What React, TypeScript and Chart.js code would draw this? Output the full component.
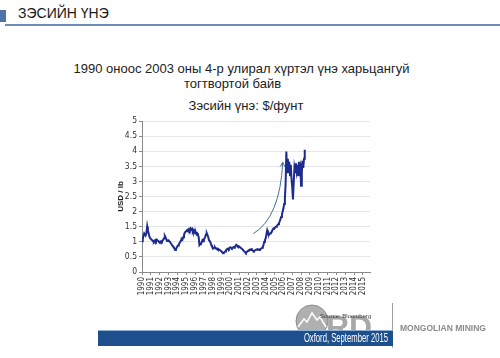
import React, { useEffect, useRef } from "react";
import { Chart, registerables } from "chart.js";

Chart.register(...registerables);

const START_YEAR = 1990;

const yearTicks = [
  1990, 1991, 1992, 1993, 1994, 1995, 1996, 1997, 1998, 1999, 2000, 2001, 2002,
  2003, 2004, 2005, 2006, 2007, 2008, 2009, 2010, 2011, 2012, 2013, 2014, 2015,
];

// Monthly copper price, USD / lb
const p1990 = [1.02, 1.08, 1.2, 1.28, 1.24, 1.22, 1.3, 1.51, 1.36, 1.28, 1.18, 1.12];
const p1991 = [1.1, 1.07, 1.05, 1.02, 1.0, 1.04, 1.06, 1.02, 1.07, 1.05, 1.03, 1.0];
const p1992 = [1.0, 0.98, 1.02, 1.0, 1.04, 1.08, 1.12, 1.2, 1.15, 1.08, 1.03, 1.05];
const p1993 = [1.05, 1.02, 1.0, 0.95, 0.92, 0.88, 0.85, 0.83, 0.78, 0.73, 0.75, 0.8];
const p1994 = [0.85, 0.88, 0.92, 0.96, 1.0, 1.05, 1.1, 1.08, 1.15, 1.22, 1.3, 1.33];
const p1995 = [1.35, 1.38, 1.4, 1.36, 1.42, 1.38, 1.44, 1.4, 1.43, 1.35, 1.4, 1.38];
const p1996 = [1.28, 1.32, 1.25, 1.28, 1.22, 1.15, 0.89, 0.92, 0.95, 0.98, 1.05, 1.02];
const p1997 = [1.08, 1.12, 1.18, 1.25, 1.28, 1.22, 1.15, 1.05, 1.02, 0.98, 0.9, 0.85];
const p1998 = [0.8, 0.78, 0.8, 0.82, 0.78, 0.76, 0.78, 0.75, 0.76, 0.74, 0.72, 0.7];
const p1999 = [0.68, 0.65, 0.62, 0.64, 0.66, 0.68, 0.72, 0.75, 0.76, 0.78, 0.76, 0.8];
const p2000 = [0.82, 0.8, 0.78, 0.8, 0.82, 0.8, 0.84, 0.86, 0.9, 0.88, 0.85, 0.86];
const p2001 = [0.84, 0.82, 0.8, 0.78, 0.76, 0.74, 0.7, 0.68, 0.66, 0.63, 0.65, 0.68];
const p2002 = [0.7, 0.72, 0.74, 0.73, 0.75, 0.76, 0.72, 0.7, 0.69, 0.71, 0.72, 0.74];
const p2003 = [0.75, 0.76, 0.74, 0.73, 0.75, 0.76, 0.78, 0.8, 0.82, 0.9, 1.0, 1.05];
const p2004 = [1.12, 1.25, 1.38, 1.3, 1.22, 1.25, 1.28, 1.3, 1.32, 1.38, 1.42, 1.45];
const p2005 = [1.45, 1.48, 1.5, 1.52, 1.55, 1.58, 1.62, 1.68, 1.75, 1.82, 1.9, 2.0];
const p2006 = [2.1, 2.25, 2.43, 2.9, 3.99, 3.3, 3.75, 3.4, 3.65, 3.2, 3.55, 3.1];
const p2007 = [2.8, 2.4, 2.95, 3.45, 3.3, 3.6, 3.35, 3.55, 3.2, 3.65, 3.4, 3.5];
const p2008 = [2.86, 3.3, 3.68, 3.45, 3.75, 4.05];

// Annotation arrow, in data units (year, USD/lb)
const arrowFrom = { x: 2002.6, y: 1.27 };
const arrowCtrl = { x: 2005.6, y: 1.8 };
const arrowTo = { x: 2005.93, y: 3.63 };

const FONT = "'Liberation Sans', Arial, sans-serif";
const NARROW = "'DejaVu Sans Condensed', 'Liberation Sans Narrow', 'Liberation Sans', sans-serif";

export default function App() {
  const ref = useRef<HTMLCanvasElement>(null);

  useEffect(() => {
    const prices = [
      ...p1990, ...p1991, ...p1992, ...p1993, ...p1994, ...p1995, ...p1996,
      ...p1997, ...p1998, ...p1999, ...p2000, ...p2001, ...p2002, ...p2003,
      ...p2004, ...p2005, ...p2006, ...p2007, ...p2008,
    ];
    const points = prices.map((v, i) => ({ x: START_YEAR + i / 12, y: v }));

    const arrowPlugin = {
      id: "arrowAnno",
      afterDatasetsDraw(chart: any) {
        const xs = chart.scales.x;
        const ys = chart.scales.y;
        const ctx = chart.ctx;
        const x0 = xs.getPixelForValue(arrowFrom.x);
        const y0 = ys.getPixelForValue(arrowFrom.y);
        const cx = xs.getPixelForValue(arrowCtrl.x);
        const cy = ys.getPixelForValue(arrowCtrl.y);
        const x1 = xs.getPixelForValue(arrowTo.x);
        const y1 = ys.getPixelForValue(arrowTo.y);
        ctx.save();
        ctx.strokeStyle = "#3f6f99";
        ctx.lineWidth = 1;
        ctx.beginPath();
        ctx.moveTo(x0, y0);
        ctx.quadraticCurveTo(cx, cy, x1, y1);
        ctx.stroke();
        const ang = Math.atan2(y1 - cy, x1 - cx);
        const len = 5;
        ctx.beginPath();
        ctx.moveTo(x1 - len * Math.cos(ang - 0.5), y1 - len * Math.sin(ang - 0.5));
        ctx.lineTo(x1, y1);
        ctx.lineTo(x1 - len * Math.cos(ang + 0.5), y1 - len * Math.sin(ang + 0.5));
        ctx.stroke();
        ctx.restore();
      },
    };

    const chart = new Chart(ref.current as HTMLCanvasElement, {
      type: "line",
      data: {
        datasets: [
          {
            data: points,
            borderColor: "#1d2b8e",
            borderWidth: 2,
            pointRadius: 0,
            tension: 0,
            fill: false,
          },
        ],
      },
      options: {
        animation: false,
        responsive: false,
        maintainAspectRatio: false,
        layout: { padding: { left: 16, right: 10, top: 11, bottom: 0 } },
        plugins: { legend: { display: false }, tooltip: { enabled: false } },
        scales: {
          x: {
            type: "linear",
            min: 1990,
            max: 2015.8,
            afterBuildTicks: (s: any) => {
              s.ticks = yearTicks.map((v) => ({ value: v }));
            },
            afterFit: (s: any) => {
              s.height = 38;
            },
            ticks: {
              autoSkip: false,
              minRotation: 90,
              maxRotation: 90,
              padding: 2,
              color: "#333",
              font: { size: 8, family: NARROW },
              callback: (v: any) => String(v),
            },
            grid: { drawOnChartArea: false, tickLength: 3, color: "#8a8a8a" },
            border: { color: "#8a8a8a" },
          },
          y: {
            min: 0,
            max: 5,
            afterFit: (s: any) => {
              s.width = 26;
            },
            ticks: {
              stepSize: 0.5,
              padding: 2,
              color: "#333",
              font: { size: 8.5, family: NARROW },
              callback: (v: any) => String(v),
            },
            grid: { color: "#e6e6e6", tickLength: 3, tickColor: "#8a8a8a" },
            border: { color: "#8a8a8a" },
            title: {
              display: true,
              text: "USD / lb",
              color: "#222",
              padding: 0,
              font: { size: 8, weight: "bold", family: FONT },
            },
          },
        },
      },
      plugins: [arrowPlugin],
    } as any);
    return () => chart.destroy();
  }, []);

  const abs = (s: React.CSSProperties): React.CSSProperties => ({ position: "absolute", ...s });

  return (
    <div style={{ position: "absolute", left: 0, top: 0, width: 500, height: 358, background: "#fff", overflow: "hidden", fontFamily: FONT }}>
      {/* header */}
      <div style={abs({ left: 0, top: 10, width: 6, height: 12, background: "#4d73a8" })} />
      <div style={abs({ left: 18, top: 5, fontSize: 14, lineHeight: "16px", color: "#1a1a1a", whiteSpace: "nowrap" })}>ЗЭСИЙН ҮНЭ</div>
      <div style={abs({ left: 5, top: 24, width: 495, height: 2, background: "#6c8db8" })} />

      {/* titles */}
      <div style={abs({ left: 0, width: 483, top: 61, textAlign: "center", fontSize: 13, lineHeight: "16px", color: "#222", whiteSpace: "nowrap" })}>
        1990 оноос 2003 оны 4-р улирал  хүртэл үнэ харьцангуй
      </div>
      <div style={abs({ left: 0, width: 465, top: 76, textAlign: "center", fontSize: 13, lineHeight: "16px", color: "#222", whiteSpace: "nowrap" })}>
        тогтвортой байв
      </div>
      <div style={abs({ left: 0, width: 492, top: 98, textAlign: "center", fontSize: 13, lineHeight: "16px", color: "#222", whiteSpace: "nowrap" })}>
        Зэсийн үнэ: $/фунт
      </div>

      {/* chart */}
      <canvas ref={ref} width={280} height={200} style={abs({ left: 100, top: 110, width: 280, height: 200 })} />

      {/* logo */}
      <svg width={500} height={358} style={abs({ left: 0, top: 0 })}>
        <circle cx={312} cy={321} r={16} fill="#b0b0b0" stroke="#8c8c8c" strokeWidth={1} />
        <polyline points="298,327 304,319 307,322 312,313 317,320 320,317 326,327" fill="none" stroke="#fff" strokeWidth={1.5} />
        <text x={326} y={338} fontFamily={FONT} fontWeight="bold" fontSize={32} fill="#a8a8a8">RD</text>
        <text x={320} y={318} fontFamily={FONT} fontSize={6} fill="#3a3a3a">Source: Bloomberg</text>
        <line x1={392.5} y1={303} x2={392.5} y2={348} stroke="#a0a0a0" strokeWidth={1} />
      </svg>

      {/* footer band */}
      <div style={abs({ left: 98, top: 330, width: 295, height: 16, background: "#1e4f8d", borderTop: "1px solid #8fb0d4", boxSizing: "border-box" })} />
      <div style={abs({ left: 188, width: 200, top: 331, textAlign: "right", fontFamily: FONT, fontSize: 12, lineHeight: "14px", color: "#fff", whiteSpace: "nowrap", transform: "scaleX(0.64)", transformOrigin: "right center" })}>
        Oxford, September 2015
      </div>
      <div style={abs({ left: 400, top: 323, fontSize: 8.5, fontWeight: "bold", lineHeight: "10px", color: "#8a8a8a", whiteSpace: "nowrap" })}>
        MONGOLIAN MINING
      </div>
    </div>
  );
}
